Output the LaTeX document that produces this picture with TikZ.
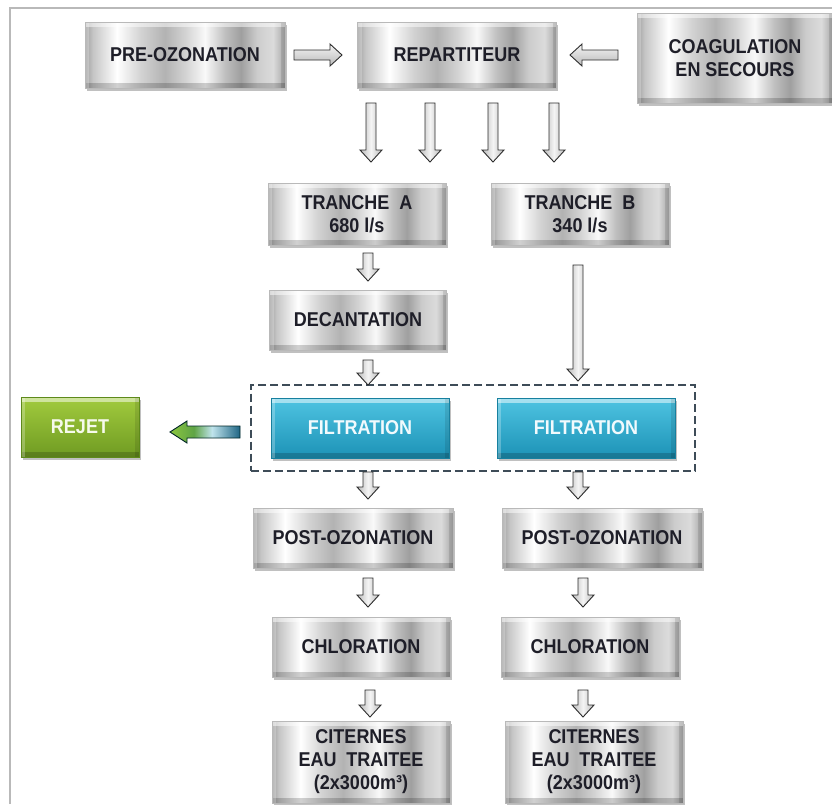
\documentclass[tikz,border=0pt]{standalone}
\usepackage{fontspec}
\newfontfamily\bxfont{Liberation Sans}[FakeStretch=0.9]
\usetikzlibrary{shadows,fit,calc}
\definecolor{txt}{HTML}{1E1E28}
\definecolor{tealA}{HTML}{4FC4E2}
\definecolor{tealB}{HTML}{1C92B6}
\definecolor{tealE}{HTML}{17809F}
\definecolor{grnA}{HTML}{A2CB3E}
\definecolor{grnB}{HTML}{6F9B22}
\definecolor{grnE}{HTML}{5E8A1A}
\definecolor{dashc}{HTML}{3E4C58}
\definecolor{gA}{HTML}{8CC63F}
\definecolor{gB}{HTML}{5FA445}
\definecolor{gC}{HTML}{BFE3EC}
\definecolor{gD}{HTML}{1F6584}
\pgfdeclarehorizontalshading{metal}{100bp}{color(0bp)=(gray!75); color(25bp)=(gray!75); color(27bp)=(gray!45); color(33bp)=(white); color(39bp)=(gray!35); color(45bp)=(gray!60); color(50bp)=(gray!35); color(55bp)=(white!95!gray); color(60bp)=(gray!50); color(64bp)=(gray!75); color(68bp)=(gray!40); color(72bp)=(gray!28); color(75bp)=(gray!70); color(100bp)=(gray!70)}
\pgfdeclarehorizontalshading{greenblue}{100bp}{color(0bp)=(gA); color(25bp)=(gA); color(42bp)=(gB); color(55bp)=(gC); color(75bp)=(gD); color(100bp)=(gD)}
\tikzset{
  boxbase/.style={rectangle, inner sep=0pt, align=center,
    font=\bxfont\bfseries\fontsize{20}{23}\selectfont,
    drop shadow={shadow xshift=1.5pt, shadow yshift=-3pt, opacity=0.35, fill=black!70},
    path picture={
      \fill[white,opacity=0.5] (path picture bounding box.north west) rectangle ([yshift=-5pt]path picture bounding box.north east);
      \fill[black,opacity=0.18] ([yshift=5pt]path picture bounding box.south west) rectangle (path picture bounding box.south east);
      \fill[white,opacity=0.25] (path picture bounding box.north west) rectangle ([xshift=4pt]path picture bounding box.south west);
      \fill[black,opacity=0.1] ([xshift=-4pt]path picture bounding box.north east) rectangle (path picture bounding box.south east);
    }},
  metalbox/.style={boxbase, shading=metal, draw=gray!55, text=txt},
  tealbox/.style={boxbase, top color=tealA, bottom color=tealB, draw=tealE, text=white!92!tealA},
  greenbox/.style={boxbase, top color=grnA, bottom color=grnB, draw=grnE, text=white!90!grnA},
  blkarr/.style={draw=gray!35!black, line width=0.9pt, line join=miter},
  frameline/.style={draw=gray!55, line width=1.3pt},
  dashbox/.style={draw=dashc, line width=2.2pt, dash pattern=on 8pt off 4pt, inner xsep=20pt, inner ysep=13pt}
}
\newcommand\ArrD[2]{\path[blkarr, left color=gray!55, right color=gray!55, middle color=gray!8]
  let \p1=#1, \p2=#2 in ({\x1-5pt},\y1) -- ({\x1+5pt},\y1) -- ({\x1+5pt},{\y2+12pt}) -- ({\x1+11pt},{\y2+12pt})
  -- (\x1,\y2) -- ({\x1-11pt},{\y2+12pt}) -- ({\x1-5pt},{\y2+12pt}) -- cycle;}
\newcommand\ArrH[2]{\path[blkarr, top color=gray!8, bottom color=gray!55]
  let \p1=#1, \p2=#2, \n1={sign(\x2-\x1)} in (\x1,{\y1+5pt}) -- ({\x2-\n1*12pt},{\y1+5pt}) -- ({\x2-\n1*12pt},{\y1+11pt})
  -- (\x2,\y1) -- ({\x2-\n1*12pt},{\y1-11pt}) -- ({\x2-\n1*12pt},{\y1-5pt}) -- (\x1,{\y1-5pt}) -- cycle;}
\begin{document}
\begin{tikzpicture}[x=1pt,y=-1pt]
\useasboundingbox (0,0) rectangle (832,804);
\fill[white] (0,0) rectangle (832,804);
\draw[frameline] (10,804) -- (10,8) -- (832,8);

% boxes
\node[metalbox, minimum width=200pt, minimum height=66pt] (preoz) at (185,55) {PRE-OZONATION};
\node[metalbox, minimum width=199pt, minimum height=66pt] (repart) at (457,55) {REPARTITEUR};
\node[metalbox, minimum width=196pt, minimum height=90pt] (coag) at (735,58) {COAGULATION\\EN SECOURS};
\node[metalbox, minimum width=178pt, minimum height=62pt] (trA) at (357,214) {TRANCHE\ \ A\\680 l/s};
\node[metalbox, minimum width=178pt, minimum height=62pt] (trB) at (580,214) {TRANCHE\ \ B\\340 l/s};
\node[metalbox, minimum width=177pt, minimum height=60pt] (dec) at (358,320) {DECANTATION};
\node[tealbox, minimum width=178pt, minimum height=60pt] (filA) at (360,428) {FILTRATION};
\node[tealbox, minimum width=178pt, minimum height=60pt] (filB) at (586,428) {FILTRATION};
\node[greenbox, minimum width=118pt, minimum height=60pt] (rejet) at (80,427) {REJET};
\node[metalbox, minimum width=200pt, minimum height=60pt] (poA) at (353,538) {POST-OZONATION};
\node[metalbox, minimum width=200pt, minimum height=60pt] (poB) at (602,538) {POST-OZONATION};
\node[metalbox, minimum width=178pt, minimum height=60pt] (chA) at (361,647) {CHLORATION};
\node[metalbox, minimum width=178pt, minimum height=60pt] (chB) at (590,647) {CHLORATION};
\node[metalbox, minimum width=178pt, minimum height=82pt] (ciA) at (361,762) {CITERNES\\EAU\ \ TRAITEE\\(2x3000m³)};
\node[metalbox, minimum width=178pt, minimum height=82pt] (ciB) at (594,762) {CITERNES\\EAU\ \ TRAITEE\\(2x3000m³)};

\node[dashbox, fit=(filA)(filB)] (filgroup) {};

% horizontal block arrows
\ArrH{(294,55)}{(342,55)}
\ArrH{(618,55)}{(570,55)}
% from repartiteur
\ArrD{(371,103)}{(371,162)}
\ArrD{(430,103)}{(430,162)}
\ArrD{(493,103)}{(493,162)}
\ArrD{(554,103)}{(554,162)}
% line A / B
\ArrD{(368,253)}{(368,281)}
\ArrD{(578,265)}{(578,381)}
\ArrD{(368,360)}{(368,385)}
\ArrD{(368,472)}{(368,499)}
\ArrD{(578,472)}{(578,499)}
\ArrD{(368,578)}{(368,607)}
\ArrD{(583,578)}{(583,607)}
\ArrD{(370,690)}{(370,717)}
\ArrD{(583,690)}{(583,717)}

% reject arrow
\path[blkarr, draw=black!70!teal, shading=greenblue]
  (240,426) -- (187,426) -- (187,421) -- (170,432) -- (187,443) -- (187,438) -- (240,438) -- cycle;
\end{tikzpicture}
\end{document}
